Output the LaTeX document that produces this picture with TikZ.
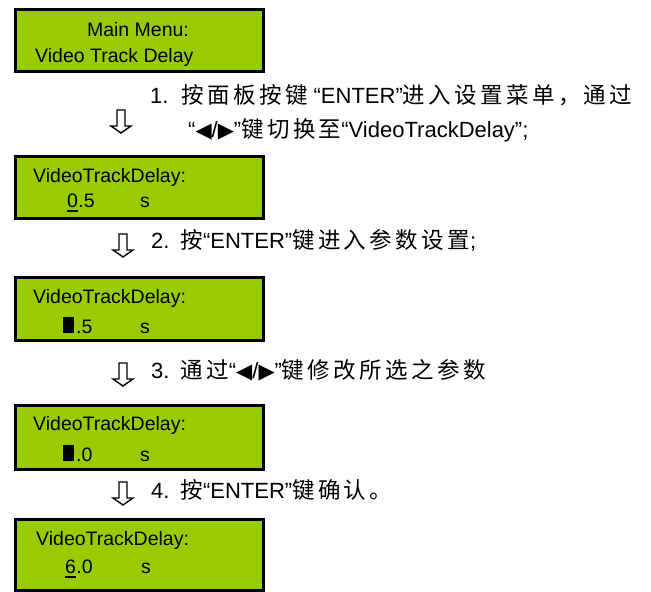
\documentclass[tikz,border=0pt]{standalone}
\usepackage{fontspec}
\setmainfont{Liberation Sans}
\newfontfamily\zhfont{Noto Sans CJK SC}[LetterSpace=15]
\newfontfamily\symfont{DejaVu Sans}
\newcommand\zh[1]{{\zhfont\fontsize{22.5}{26}\selectfont #1}}
\newcommand\tri[1]{{\symfont\fontsize{21}{24}\selectfont #1}}
\definecolor{lcd}{RGB}{153,204,0}
\tikzset{
  lcdbox/.style={draw=black, line width=3pt, fill=lcd, anchor=north west, inner sep=0pt, minimum width=248pt},
  lcdtext/.style={anchor=base west, inner sep=0pt, font=\fontsize{19.5}{23}\selectfont},
  steptext/.style={anchor=base west, inner sep=0pt, font=\fontsize{22}{26}\selectfont},
  downarr/.pic={\draw[line width=1.4pt, line join=miter] (-4,0) -- (4,0) -- (4,16) -- (10,16) -- (0,23) -- (-10,16) -- (-4,16) -- cycle;},
  uline/.style={line width=1.5pt},
  cursor/.style={fill=black}
}
\begin{document}
\begin{tikzpicture}[x=1pt,y=-1pt]
\useasboundingbox[fill=white] (0,0) rectangle (651,592);
% boxes
\node[lcdbox, minimum height=62pt] (b1) at (14,8) {};
\node[lcdbox, minimum height=62pt] (b2) at (14,155) {};
\node[lcdbox, minimum height=63pt] (b3) at (14,276) {};
\node[lcdbox, minimum height=64pt] (b4) at (14,404) {};
\node[lcdbox, minimum height=71pt] (b5) at (14,518) {};
% box 1
\node[lcdtext, anchor=base] (t1a) at (138,36) {Main Menu:};
\node[lcdtext] (t1b) at (35,62) {Video Track Delay};
% box 2
\node[lcdtext] (t2a) at (33,182) {VideoTrackDelay:};
\node[lcdtext] (t2d) at (67,207) {0};
\node[lcdtext] (t2e) at (t2d.base east) {.5};
\node[lcdtext] (t2s) at (140,207) {s};
\draw[uline] ([yshift=-4pt]t2d.base west) -- ([yshift=-4pt]t2d.base east);
% box 3
\node[lcdtext] (t3a) at (33,303) {VideoTrackDelay:};
\fill[cursor] (63,317) rectangle (74,333);
\node[lcdtext] (t3e) at (76,333) {.5};
\node[lcdtext] (t3s) at (140,333) {s};
% box 4
\node[lcdtext] (t4a) at (33,430) {VideoTrackDelay:};
\fill[cursor] (63,445) rectangle (74,461);
\node[lcdtext] (t4e) at (76,461) {.0};
\node[lcdtext] (t4s) at (140,461) {s};
% box 5
\node[lcdtext] (t5a) at (36,545) {VideoTrackDelay:};
\node[lcdtext] (t5d) at (65,573) {6};
\node[lcdtext] (t5e) at (t5d.base east) {.0};
\node[lcdtext] (t5s) at (141,573) {s};
\draw[uline] ([yshift=-4pt]t5d.base west) -- ([yshift=-4pt]t5d.base east);
% arrows
\pic at (121,110) {downarr};
\pic at (123,234) {downarr};
\pic at (123,363) {downarr};
\pic at (123,482) {downarr};
% step texts
\node[steptext] (s1a) at (150,103) {1.\hspace{13pt}\zh{按面板按键} “ENTER”\zh{进入设置菜单，通过}};
\node[steptext] (s1b) at (188,137) {“\tri{◀}/\tri{▶}”\zh{键切换至}“VideoTrackDelay”;};
\node[steptext] (s2) at (151,248) {2.\hspace{11pt}\zh{按}“ENTER”\zh{键进入参数设置};};
\node[steptext] (s3) at (151,378) {3.\hspace{11pt}\zh{通过}“\tri{◀}/\tri{▶}”\zh{键修改所选之参数}};
\node[steptext] (s4) at (151,498) {4.\hspace{11pt}\zh{按}“ENTER”\zh{键确认。}};
\end{tikzpicture}
\end{document}
